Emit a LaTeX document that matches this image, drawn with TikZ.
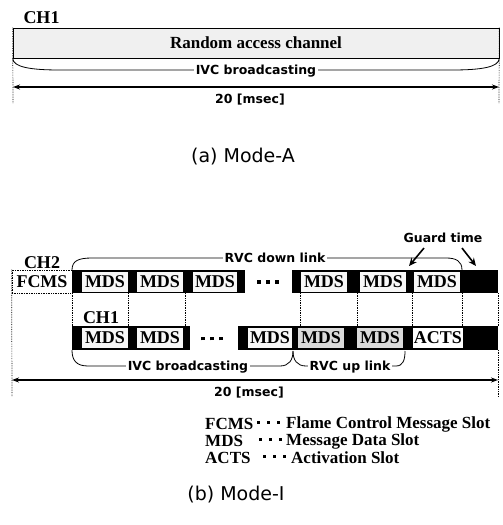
\documentclass[tikz,border=0pt]{standalone}
\usepackage{fontspec}
\setmainfont{Liberation Serif}
\newfontfamily\lblfont{DejaVu Sans}
\usetikzlibrary{positioning, arrows.meta, calc}
\newcommand{\sqdot}[1]{\rule{#1}{#1}}
\newcommand{\tridots}[2][6pt]{\sqdot{#2}\hspace{#1}\sqdot{#2}\hspace{#1}\sqdot{#2}}
\tikzset{
  slot/.style={rectangle, inner sep=0pt, minimum height=20pt, font=\fontsize{18}{18}\selectfont\bfseries, fill=gray!6},
  upslot/.style={slot, fill=gray!28},
  lbl/.style={font=\fontsize{18}{18}\selectfont\bfseries, inner sep=0pt},
  brlbl/.style={font=\lblfont\fontsize{12.5}{13}\selectfont\bfseries, fill=white, inner sep=2pt},
  brcurve/.style={line width=0.8pt},
  dimarr/.style={{Stealth[length=7pt,width=5pt]}-{Stealth[length=7pt,width=5pt]}, line width=1.4pt},
  dotln/.style={densely dotted, line width=0.7pt},
  garr/.style={-{Stealth[length=8pt,width=7pt]}, line width=1.6pt},
  keytext/.style={font=\fontsize{17}{17}\selectfont\bfseries, inner sep=0pt, anchor=west},
  captxt/.style={font=\lblfont\fontsize{19}{19}\selectfont, inner sep=0pt}
}
\begin{document}
\begin{tikzpicture}[x=1pt, y=-1pt]
  \useasboundingbox[fill=white] (0,0) rectangle (503,525);

  % (a) Mode-A
  \node[lbl] (chA) at (41.5,17.5) {CH1};
  \node[rectangle, draw, line width=0.6pt, fill=gray!12, minimum width=486pt, minimum height=30pt, inner sep=0pt, font=\fontsize{17}{17}\selectfont\bfseries] (rac) at (256,43) {Random access channel};
  \coordinate (aBL) at (13,104);
  \coordinate (aBR) at (499,104);
  \coordinate (aDL) at (13,87);
  \coordinate (aDR) at (499,87);
  \draw[brcurve] (rac.south west) .. controls (13,67) and (30,70) .. (60,70) -- (452,70) .. controls (482,70) and (499,67) .. (rac.south east);
  \node[brlbl] (ivcA) at (256,71) {IVC broadcasting};
  \draw[dotln] (rac.north west) -- (aBL);
  \draw[dotln] (rac.north east) -- (aBR);
  \draw[dimarr] (aDL) -- (aDR);
  \node[brlbl, fill=none] (msA) at (250,100) {20 [msec]};
  \node[captxt] (capA) at (243,157) {(a) Mode-A};

  % (b) Mode-I : slot rows
  \fill (72,270) rectangle (245,293);
  \fill (292,270) rectangle (498,293);
  \fill (72,326) rectangle (190,350);
  \fill (238,326) rectangle (498,350);
  \foreach \x in {72,128,185,300,357,412,462,498}
    \draw[dotln] (\x,293) -- (\x,326);

  \node[lbl] (chB) at (42,263) {CH2};
  \node[slot, fill=white, draw, dotln, minimum width=60pt, minimum height=23pt] (fcms) at (42,281.5) {FCMS};
  \node[slot, minimum width=46pt] (m11) at (105,281.5) {MDS};
  \node[slot, minimum width=46pt] (m12) at (160,281.5) {MDS};
  \node[slot, minimum width=44pt] (m13) at (215,281.5) {MDS};
  \node[inner sep=0pt] (d1) at (268,282) {\tridots[5.5pt]{3.5pt}};
  \node[slot, minimum width=46pt] (m14) at (324,281.5) {MDS};
  \node[slot, minimum width=46pt] (m15) at (383,281.5) {MDS};
  \node[slot, minimum width=46pt] (m16) at (437,281.5) {MDS};

  \node[lbl] (chB1) at (101,318) {CH1};
  \node[slot, minimum width=46pt] (m21) at (105,338) {MDS};
  \node[slot, minimum width=46pt] (m22) at (160,338) {MDS};
  \node[inner sep=0pt] (d2) at (212,338.5) {\tridots[5.5pt]{3.5pt}};
  \node[slot, minimum width=44pt] (m23) at (270,338) {MDS};
  \node[upslot, minimum width=46pt] (u1) at (321,338) {MDS};
  \node[upslot, minimum width=46pt] (u2) at (380,338) {MDS};
  \node[slot, fill=white, minimum width=50pt] (acts) at (438,338) {ACTS};

  \coordinate (bBL) at (12,397);
  \coordinate (bR) at (498,350);
  \coordinate (bBR) at (498,397);
  \draw[dotln] (fcms.north west) -- (bBL);
  \draw[dotln] (bR) -- (bBR);

  % braces
  \coordinate (dnL) at (72,270);
  \coordinate (dnR) at (462,270);
  \coordinate (ivL) at (72,350);
  \coordinate (mid) at (293,351);
  \coordinate (upR) at (405,351);
  \draw[brcurve] (dnL) .. controls (72,261) and (78,258) .. (92,258) -- (446,258) .. controls (456,258) and (462,261) .. (dnR);
  \node[brlbl] (rvcdn) at (275,258) {RVC down link};
  \draw[brcurve] (ivL) .. controls (72,360) and (76,366) .. (88,366) -- (280,366) .. controls (289,366) and (293,360) .. (mid);
  \draw[brcurve] (mid) .. controls (293,360) and (297,366) .. (306,366) -- (396,366) .. controls (403,366) and (405,360) .. (upR);
  \node[brlbl] (ivcB) at (188,367) {IVC broadcasting};
  \node[brlbl] (rvcup) at (350,367) {RVC up link};

  % guard time
  \node[brlbl, fill=none] (guard) at (443,238) {Guard time};
  \coordinate (gt1) at (409,266);
  \coordinate (gt2) at (476,266);
  \draw[garr] ($(guard.south)+(-19,3)$) -- (gt1);
  \draw[garr] ($(guard.south)+(19,3)$) -- (gt2);

  % 20 msec
  \coordinate (bDL) at (12,380);
  \coordinate (bDR) at (498,380);
  \draw[dimarr] (bDL) -- (bDR);
  \node[brlbl, fill=none] (msB) at (249,393) {20 [msec]};

  % legend
  \node[keytext] (k1) at (205,424) {FCMS};
  \node[keytext] (k1d) at (257,422) {\tridots[7pt]{3pt}};
  \node[keytext] (k1t) at (286,424) {Flame Control Message Slot};
  \node[keytext] (k2) at (205,441) {MDS};
  \node[keytext] (k2d) at (259,439) {\tridots[7pt]{3pt}};
  \node[keytext] (k2t) at (286,441) {Message Data Slot};
  \node[keytext] (k3) at (205,458) {ACTS};
  \node[keytext] (k3d) at (263,456) {\tridots[7pt]{3pt}};
  \node[keytext] (k3t) at (291,458) {Activation Slot};

  \node[captxt] (capB) at (236,495) {(b) Mode-I};
\end{tikzpicture}
\end{document}
